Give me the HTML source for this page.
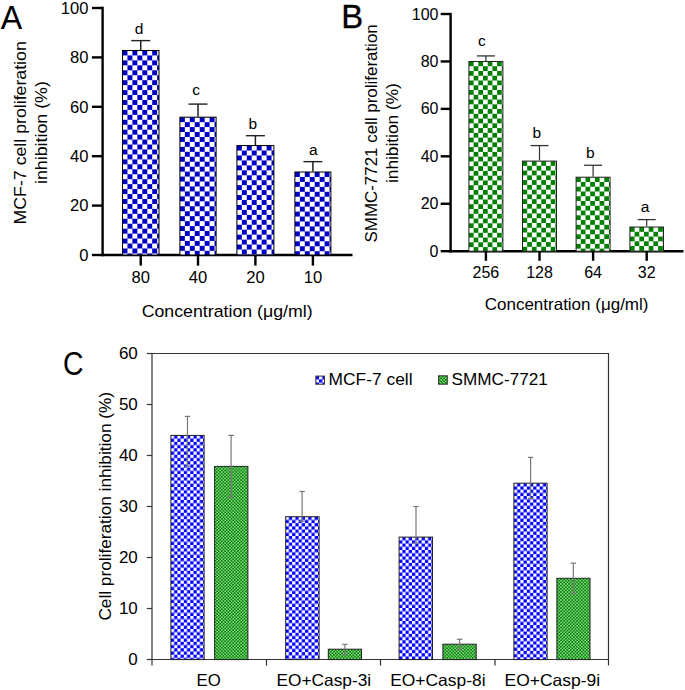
<!DOCTYPE html>
<html><head><meta charset="utf-8"><style>
html,body{margin:0;padding:0;background:#fff;}
svg{display:block;}
text{font-family:"Liberation Sans",sans-serif;fill:#000;}
</style></head><body>
<svg width="685" height="690" viewBox="0 0 685 690">
<defs><pattern id="p1" patternUnits="userSpaceOnUse" x="122.50" y="50.49" width="9.9" height="9.9">
<rect width="9.9" height="9.9" fill="#ffffff"/><rect width="4.95" height="4.95" fill="#0000c4"/><rect x="4.95" y="4.95" width="4.95" height="4.95" fill="#0000c4"/></pattern><pattern id="p2" patternUnits="userSpaceOnUse" x="179.90" y="117.18" width="9.9" height="9.9">
<rect width="9.9" height="9.9" fill="#ffffff"/><rect width="4.95" height="4.95" fill="#0000c4"/><rect x="4.95" y="4.95" width="4.95" height="4.95" fill="#0000c4"/></pattern><pattern id="p3" patternUnits="userSpaceOnUse" x="236.90" y="145.58" width="9.9" height="9.9">
<rect width="9.9" height="9.9" fill="#ffffff"/><rect width="4.95" height="4.95" fill="#0000c4"/><rect x="4.95" y="4.95" width="4.95" height="4.95" fill="#0000c4"/></pattern><pattern id="p4" patternUnits="userSpaceOnUse" x="294.90" y="172.01" width="9.9" height="9.9">
<rect width="9.9" height="9.9" fill="#ffffff"/><rect width="4.95" height="4.95" fill="#0000c4"/><rect x="4.95" y="4.95" width="4.95" height="4.95" fill="#0000c4"/></pattern><pattern id="p5" patternUnits="userSpaceOnUse" x="468.90" y="61.47" width="9.4" height="9.52">
<rect width="9.4" height="9.52" fill="#ffffff"/><rect width="4.7" height="4.76" fill="#007f00"/><rect x="4.7" y="4.76" width="4.7" height="4.76" fill="#007f00"/></pattern><pattern id="p6" patternUnits="userSpaceOnUse" x="522.50" y="161.09" width="9.4" height="9.52">
<rect width="9.4" height="9.52" fill="#ffffff"/><rect width="4.7" height="4.76" fill="#007f00"/><rect x="4.7" y="4.76" width="4.7" height="4.76" fill="#007f00"/></pattern><pattern id="p7" patternUnits="userSpaceOnUse" x="576.10" y="177.22" width="9.4" height="9.52">
<rect width="9.4" height="9.52" fill="#ffffff"/><rect width="4.7" height="4.76" fill="#007f00"/><rect x="4.7" y="4.76" width="4.7" height="4.76" fill="#007f00"/></pattern><pattern id="p8" patternUnits="userSpaceOnUse" x="629.90" y="227.03" width="9.4" height="9.52">
<rect width="9.4" height="9.52" fill="#ffffff"/><rect width="4.7" height="4.76" fill="#007f00"/><rect x="4.7" y="4.76" width="4.7" height="4.76" fill="#007f00"/></pattern><pattern id="p9" patternUnits="userSpaceOnUse" x="170.90" y="435.40" width="6.45" height="6.45">
<rect width="6.45" height="6.45" fill="#0000ff"/><rect width="3.225" height="3.225" fill="#ffffff"/><rect x="3.225" y="3.225" width="3.225" height="3.225" fill="#ffffff"/></pattern><pattern id="p10" patternUnits="userSpaceOnUse" x="214.60" y="466.40" width="3.225" height="3.225">
<rect width="3.225" height="3.225" fill="#3aae3a"/><rect x="0" y="0" width="1.6125" height="1.6125" fill="#008800"/><rect x="1.6125" y="1.6125" width="1.6125" height="1.6125" fill="#008800"/>
<rect x="1.9187500000000002" y="0.30625" width="1.0" height="1.0" fill="#ffffff"/><rect x="0.30625" y="1.9187500000000002" width="1.0" height="1.0" fill="#ffffff"/></pattern><pattern id="p11" patternUnits="userSpaceOnUse" x="285.70" y="516.70" width="6.45" height="6.45">
<rect width="6.45" height="6.45" fill="#0000ff"/><rect width="3.225" height="3.225" fill="#ffffff"/><rect x="3.225" y="3.225" width="3.225" height="3.225" fill="#ffffff"/></pattern><pattern id="p12" patternUnits="userSpaceOnUse" x="328.30" y="649.20" width="3.225" height="3.225">
<rect width="3.225" height="3.225" fill="#3aae3a"/><rect x="0" y="0" width="1.6125" height="1.6125" fill="#008800"/><rect x="1.6125" y="1.6125" width="1.6125" height="1.6125" fill="#008800"/>
<rect x="1.9187500000000002" y="0.30625" width="1.0" height="1.0" fill="#ffffff"/><rect x="0.30625" y="1.9187500000000002" width="1.0" height="1.0" fill="#ffffff"/></pattern><pattern id="p13" patternUnits="userSpaceOnUse" x="399.10" y="537.10" width="6.45" height="6.45">
<rect width="6.45" height="6.45" fill="#0000ff"/><rect width="3.225" height="3.225" fill="#ffffff"/><rect x="3.225" y="3.225" width="3.225" height="3.225" fill="#ffffff"/></pattern><pattern id="p14" patternUnits="userSpaceOnUse" x="442.90" y="644.20" width="3.225" height="3.225">
<rect width="3.225" height="3.225" fill="#3aae3a"/><rect x="0" y="0" width="1.6125" height="1.6125" fill="#008800"/><rect x="1.6125" y="1.6125" width="1.6125" height="1.6125" fill="#008800"/>
<rect x="1.9187500000000002" y="0.30625" width="1.0" height="1.0" fill="#ffffff"/><rect x="0.30625" y="1.9187500000000002" width="1.0" height="1.0" fill="#ffffff"/></pattern><pattern id="p15" patternUnits="userSpaceOnUse" x="513.90" y="483.20" width="6.45" height="6.45">
<rect width="6.45" height="6.45" fill="#0000ff"/><rect width="3.225" height="3.225" fill="#ffffff"/><rect x="3.225" y="3.225" width="3.225" height="3.225" fill="#ffffff"/></pattern><pattern id="p16" patternUnits="userSpaceOnUse" x="556.90" y="578.30" width="3.225" height="3.225">
<rect width="3.225" height="3.225" fill="#3aae3a"/><rect x="0" y="0" width="1.6125" height="1.6125" fill="#008800"/><rect x="1.6125" y="1.6125" width="1.6125" height="1.6125" fill="#008800"/>
<rect x="1.9187500000000002" y="0.30625" width="1.0" height="1.0" fill="#ffffff"/><rect x="0.30625" y="1.9187500000000002" width="1.0" height="1.0" fill="#ffffff"/></pattern><pattern id="p17" patternUnits="userSpaceOnUse" x="312.57" y="376.10" width="6.45" height="6.45">
<rect width="6.45" height="6.45" fill="#0000ff"/><rect width="3.225" height="3.225" fill="#ffffff"/><rect x="3.225" y="3.225" width="3.225" height="3.225" fill="#ffffff"/></pattern><pattern id="p18" patternUnits="userSpaceOnUse" x="438.60" y="375.80" width="3.225" height="3.225">
<rect width="3.225" height="3.225" fill="#3aae3a"/><rect x="0" y="0" width="1.6125" height="1.6125" fill="#008800"/><rect x="1.6125" y="1.6125" width="1.6125" height="1.6125" fill="#008800"/>
<rect x="1.9187500000000002" y="0.30625" width="1.0" height="1.0" fill="#ffffff"/><rect x="0.30625" y="1.9187500000000002" width="1.0" height="1.0" fill="#ffffff"/></pattern></defs>
<rect width="685" height="690" fill="#fff"/>
<text x="0.84" y="28.90" font-size="32.5" textLength="21.43" lengthAdjust="spacingAndGlyphs" >A</text>
<line x1="102.60" y1="6.70" x2="102.60" y2="256.20" stroke="#000" stroke-width="2.4"/>
<line x1="91.90" y1="255.00" x2="102.60" y2="255.00" stroke="#000" stroke-width="2.4"/>
<text x="88.50" y="260.80" font-size="16.6" text-anchor="end" >0</text>
<line x1="91.90" y1="205.60" x2="102.60" y2="205.60" stroke="#000" stroke-width="2.4"/>
<text x="88.50" y="211.40" font-size="16.6" text-anchor="end" >20</text>
<line x1="91.90" y1="156.20" x2="102.60" y2="156.20" stroke="#000" stroke-width="2.4"/>
<text x="88.50" y="162.00" font-size="16.6" text-anchor="end" >40</text>
<line x1="91.90" y1="106.80" x2="102.60" y2="106.80" stroke="#000" stroke-width="2.4"/>
<text x="88.50" y="112.60" font-size="16.6" text-anchor="end" >60</text>
<line x1="91.90" y1="57.40" x2="102.60" y2="57.40" stroke="#000" stroke-width="2.4"/>
<text x="88.50" y="63.20" font-size="16.6" text-anchor="end" >80</text>
<line x1="91.90" y1="8.00" x2="102.60" y2="8.00" stroke="#000" stroke-width="2.4"/>
<text x="88.50" y="13.80" font-size="16.6" text-anchor="end" >100</text>
<line x1="101.40" y1="255.00" x2="352.50" y2="255.00" stroke="#000" stroke-width="2.4"/>
<rect x="122.50" y="50.49" width="36.50" height="204.51" fill="url(#p1)"/><rect x="122.50" y="50.49" width="36.50" height="204.51" fill="none" stroke="#000" stroke-width="1"/>
<line x1="140.75" y1="40.61" x2="140.75" y2="49.99" stroke="#222" stroke-width="1.5"/>
<line x1="131.25" y1="40.61" x2="150.25" y2="40.61" stroke="#222" stroke-width="1.4"/>
<text x="134.76" y="33.60" font-size="15.5" text-anchor="start" >d</text>
<rect x="179.90" y="117.18" width="36.20" height="137.82" fill="url(#p2)"/><rect x="179.90" y="117.18" width="36.20" height="137.82" fill="none" stroke="#000" stroke-width="1"/>
<line x1="198.00" y1="104.09" x2="198.00" y2="116.68" stroke="#222" stroke-width="1.5"/>
<line x1="188.50" y1="104.09" x2="207.50" y2="104.09" stroke="#222" stroke-width="1.4"/>
<text x="192.20" y="95.20" font-size="15.5" text-anchor="start" >c</text>
<rect x="236.90" y="145.58" width="37.00" height="109.42" fill="url(#p3)"/><rect x="236.90" y="145.58" width="37.00" height="109.42" fill="none" stroke="#000" stroke-width="1"/>
<line x1="255.40" y1="135.70" x2="255.40" y2="145.08" stroke="#222" stroke-width="1.5"/>
<line x1="245.90" y1="135.70" x2="264.90" y2="135.70" stroke="#222" stroke-width="1.4"/>
<text x="248.62" y="129.00" font-size="15.5" text-anchor="start" >b</text>
<rect x="294.90" y="172.01" width="36.00" height="82.99" fill="url(#p4)"/><rect x="294.90" y="172.01" width="36.00" height="82.99" fill="none" stroke="#000" stroke-width="1"/>
<line x1="312.90" y1="161.64" x2="312.90" y2="171.51" stroke="#222" stroke-width="1.5"/>
<line x1="303.40" y1="161.64" x2="322.40" y2="161.64" stroke="#222" stroke-width="1.4"/>
<text x="309.06" y="154.60" font-size="15.5" text-anchor="start" >a</text>
<line x1="140.75" y1="255.00" x2="140.75" y2="265.60" stroke="#000" stroke-width="2.4"/>
<text x="140.75" y="283.00" font-size="16.6" text-anchor="middle" >80</text>
<line x1="198.00" y1="255.00" x2="198.00" y2="265.60" stroke="#000" stroke-width="2.4"/>
<text x="198.00" y="283.00" font-size="16.6" text-anchor="middle" >40</text>
<line x1="255.40" y1="255.00" x2="255.40" y2="265.60" stroke="#000" stroke-width="2.4"/>
<text x="255.40" y="283.00" font-size="16.6" text-anchor="middle" >20</text>
<line x1="312.90" y1="255.00" x2="312.90" y2="265.60" stroke="#000" stroke-width="2.4"/>
<text x="312.90" y="283.00" font-size="16.6" text-anchor="middle" >10</text>
<text x="141.70" y="317.00" font-size="16.8" textLength="171.00" lengthAdjust="spacingAndGlyphs" >Concentration (μg/ml)</text>
<text transform="translate(25.90,223.00) rotate(-90)" x="-1.45" y="0" font-size="17" textLength="183.20" lengthAdjust="spacingAndGlyphs">MCF-7 cell proliferation</text>
<text transform="translate(46.90,182.80) rotate(-90)" x="-1.19" y="0" font-size="17" textLength="102.79" lengthAdjust="spacingAndGlyphs">inhibition (%)</text>
<text x="341.30" y="28.00" font-size="32.5" textLength="21.93" lengthAdjust="spacingAndGlyphs" stroke="#000" stroke-width="0.3">B</text>
<line x1="450.60" y1="12.90" x2="450.60" y2="252.40" stroke="#000" stroke-width="2.4"/>
<line x1="440.70" y1="251.20" x2="450.60" y2="251.20" stroke="#000" stroke-width="2.4"/>
<text x="438.50" y="256.80" font-size="16" text-anchor="end" >0</text>
<line x1="440.70" y1="203.76" x2="450.60" y2="203.76" stroke="#000" stroke-width="2.4"/>
<text x="438.50" y="209.36" font-size="16" text-anchor="end" >20</text>
<line x1="440.70" y1="156.32" x2="450.60" y2="156.32" stroke="#000" stroke-width="2.4"/>
<text x="438.50" y="161.92" font-size="16" text-anchor="end" >40</text>
<line x1="440.70" y1="108.88" x2="450.60" y2="108.88" stroke="#000" stroke-width="2.4"/>
<text x="438.50" y="114.48" font-size="16" text-anchor="end" >60</text>
<line x1="440.70" y1="61.44" x2="450.60" y2="61.44" stroke="#000" stroke-width="2.4"/>
<text x="438.50" y="67.04" font-size="16" text-anchor="end" >80</text>
<line x1="440.70" y1="14.00" x2="450.60" y2="14.00" stroke="#000" stroke-width="2.4"/>
<text x="438.50" y="19.60" font-size="16" text-anchor="end" >100</text>
<line x1="449.40" y1="251.20" x2="683.50" y2="251.20" stroke="#000" stroke-width="2.4"/>
<rect x="468.90" y="61.47" width="34.00" height="189.73" fill="url(#p5)"/><rect x="468.90" y="61.47" width="34.00" height="189.73" fill="none" stroke="#222" stroke-width="1"/>
<line x1="485.90" y1="55.92" x2="485.90" y2="60.97" stroke="#333" stroke-width="1.2"/>
<line x1="476.90" y1="55.92" x2="494.90" y2="55.92" stroke="#333" stroke-width="1.3"/>
<text x="478.00" y="46.00" font-size="15.5" text-anchor="start" >c</text>
<rect x="522.50" y="161.09" width="34.00" height="90.11" fill="url(#p6)"/><rect x="522.50" y="161.09" width="34.00" height="90.11" fill="none" stroke="#222" stroke-width="1"/>
<line x1="539.50" y1="145.58" x2="539.50" y2="160.59" stroke="#333" stroke-width="1.2"/>
<line x1="530.50" y1="145.58" x2="548.50" y2="145.58" stroke="#333" stroke-width="1.3"/>
<text x="532.52" y="137.60" font-size="15.5" text-anchor="start" >b</text>
<rect x="576.10" y="177.22" width="34.00" height="73.98" fill="url(#p7)"/><rect x="576.10" y="177.22" width="34.00" height="73.98" fill="none" stroke="#222" stroke-width="1"/>
<line x1="593.10" y1="165.27" x2="593.10" y2="176.72" stroke="#333" stroke-width="1.2"/>
<line x1="584.10" y1="165.27" x2="602.10" y2="165.27" stroke="#333" stroke-width="1.3"/>
<text x="586.12" y="157.60" font-size="15.5" text-anchor="start" >b</text>
<rect x="629.90" y="227.03" width="33.60" height="24.17" fill="url(#p8)"/><rect x="629.90" y="227.03" width="33.60" height="24.17" fill="none" stroke="#222" stroke-width="1"/>
<line x1="646.70" y1="219.59" x2="646.70" y2="226.53" stroke="#333" stroke-width="1.2"/>
<line x1="637.70" y1="219.59" x2="655.70" y2="219.59" stroke="#333" stroke-width="1.3"/>
<text x="640.66" y="211.60" font-size="15.5" text-anchor="start" >a</text>
<line x1="485.90" y1="251.20" x2="485.90" y2="260.80" stroke="#000" stroke-width="2.4"/>
<text x="485.90" y="277.60" font-size="16" text-anchor="middle" >256</text>
<line x1="539.50" y1="251.20" x2="539.50" y2="260.80" stroke="#000" stroke-width="2.4"/>
<text x="539.50" y="277.60" font-size="16" text-anchor="middle" >128</text>
<line x1="593.10" y1="251.20" x2="593.10" y2="260.80" stroke="#000" stroke-width="2.4"/>
<text x="593.10" y="277.60" font-size="16" text-anchor="middle" >64</text>
<line x1="646.70" y1="251.20" x2="646.70" y2="260.80" stroke="#000" stroke-width="2.4"/>
<text x="646.70" y="277.60" font-size="16" text-anchor="middle" >32</text>
<text x="484.74" y="310.00" font-size="16.5" textLength="163.72" lengthAdjust="spacingAndGlyphs" >Concentration (μg/ml)</text>
<text transform="translate(377.30,241.70) rotate(-90)" x="-0.77" y="0" font-size="17" textLength="218.17" lengthAdjust="spacingAndGlyphs">SMMC-7721 cell proliferation</text>
<text transform="translate(398.30,181.90) rotate(-90)" x="-1.16" y="0" font-size="17" textLength="99.93" lengthAdjust="spacingAndGlyphs">inhibition (%)</text>
<text x="62.96" y="374.80" font-size="32.5" textLength="20.53" lengthAdjust="spacingAndGlyphs" >C</text>
<line x1="152.00" y1="353.50" x2="152.00" y2="665.60" stroke="#333" stroke-width="1.2"/>
<line x1="608.50" y1="353.50" x2="608.50" y2="665.60" stroke="#333" stroke-width="1.2"/>
<line x1="151.50" y1="353.50" x2="609.00" y2="353.50" stroke="#333" stroke-width="1.2"/>
<line x1="151.50" y1="659.50" x2="609.00" y2="659.50" stroke="#333" stroke-width="1.2"/>
<line x1="146.80" y1="659.50" x2="152.00" y2="659.50" stroke="#333" stroke-width="1.2"/>
<text x="137.80" y="665.40" font-size="17" text-anchor="end" >0</text>
<line x1="146.80" y1="608.50" x2="152.00" y2="608.50" stroke="#333" stroke-width="1.2"/>
<text x="137.80" y="614.40" font-size="17" text-anchor="end" >10</text>
<line x1="146.80" y1="557.50" x2="152.00" y2="557.50" stroke="#333" stroke-width="1.2"/>
<text x="137.80" y="563.40" font-size="17" text-anchor="end" >20</text>
<line x1="146.80" y1="506.50" x2="152.00" y2="506.50" stroke="#333" stroke-width="1.2"/>
<text x="137.80" y="512.40" font-size="17" text-anchor="end" >30</text>
<line x1="146.80" y1="455.50" x2="152.00" y2="455.50" stroke="#333" stroke-width="1.2"/>
<text x="137.80" y="461.40" font-size="17" text-anchor="end" >40</text>
<line x1="146.80" y1="404.50" x2="152.00" y2="404.50" stroke="#333" stroke-width="1.2"/>
<text x="137.80" y="410.40" font-size="17" text-anchor="end" >50</text>
<line x1="146.80" y1="353.50" x2="152.00" y2="353.50" stroke="#333" stroke-width="1.2"/>
<text x="137.80" y="359.40" font-size="17" text-anchor="end" >60</text>
<line x1="266.50" y1="659.50" x2="266.50" y2="665.60" stroke="#333" stroke-width="1.2"/>
<line x1="380.50" y1="659.50" x2="380.50" y2="665.60" stroke="#333" stroke-width="1.2"/>
<line x1="495.00" y1="659.50" x2="495.00" y2="665.60" stroke="#333" stroke-width="1.2"/>
<rect x="170.90" y="435.40" width="33.20" height="224.20" fill="url(#p9)"/><rect x="170.90" y="435.40" width="33.20" height="224.20" fill="none" stroke="#222" stroke-width="1"/>
<line x1="187.50" y1="416.40" x2="187.50" y2="466.30" stroke="#777" stroke-width="1.2"/>
<line x1="184.80" y1="416.40" x2="190.20" y2="416.40" stroke="#777" stroke-width="1.2"/>
<line x1="184.80" y1="466.30" x2="190.20" y2="466.30" stroke="#777" stroke-width="1.2"/>
<rect x="214.60" y="466.40" width="33.30" height="193.20" fill="url(#p10)"/><rect x="214.60" y="466.40" width="33.30" height="193.20" fill="none" stroke="#222" stroke-width="1"/>
<line x1="231.10" y1="435.40" x2="231.10" y2="497.00" stroke="#777" stroke-width="1.2"/>
<line x1="228.40" y1="435.40" x2="233.80" y2="435.40" stroke="#777" stroke-width="1.2"/>
<line x1="228.40" y1="497.00" x2="233.80" y2="497.00" stroke="#777" stroke-width="1.2"/>
<rect x="285.70" y="516.70" width="33.40" height="142.90" fill="url(#p11)"/><rect x="285.70" y="516.70" width="33.40" height="142.90" fill="none" stroke="#222" stroke-width="1"/>
<line x1="302.10" y1="491.50" x2="302.10" y2="521.40" stroke="#777" stroke-width="1.2"/>
<line x1="299.40" y1="491.50" x2="304.80" y2="491.50" stroke="#777" stroke-width="1.2"/>
<line x1="299.40" y1="521.40" x2="304.80" y2="521.40" stroke="#777" stroke-width="1.2"/>
<rect x="328.30" y="649.20" width="33.20" height="10.40" fill="url(#p12)"/><rect x="328.30" y="649.20" width="33.20" height="10.40" fill="none" stroke="#222" stroke-width="1"/>
<line x1="344.90" y1="644.30" x2="344.90" y2="654.60" stroke="#777" stroke-width="1.2"/>
<line x1="342.20" y1="644.30" x2="347.60" y2="644.30" stroke="#777" stroke-width="1.2"/>
<line x1="342.20" y1="654.60" x2="347.60" y2="654.60" stroke="#777" stroke-width="1.2"/>
<rect x="399.10" y="537.10" width="33.40" height="122.50" fill="url(#p13)"/><rect x="399.10" y="537.10" width="33.40" height="122.50" fill="none" stroke="#222" stroke-width="1"/>
<line x1="416.00" y1="506.50" x2="416.00" y2="543.00" stroke="#777" stroke-width="1.2"/>
<line x1="413.30" y1="506.50" x2="418.70" y2="506.50" stroke="#777" stroke-width="1.2"/>
<line x1="413.30" y1="543.00" x2="418.70" y2="543.00" stroke="#777" stroke-width="1.2"/>
<rect x="442.90" y="644.20" width="33.30" height="15.40" fill="url(#p14)"/><rect x="442.90" y="644.20" width="33.30" height="15.40" fill="none" stroke="#222" stroke-width="1"/>
<line x1="459.60" y1="639.30" x2="459.60" y2="649.30" stroke="#777" stroke-width="1.2"/>
<line x1="456.90" y1="639.30" x2="462.30" y2="639.30" stroke="#777" stroke-width="1.2"/>
<line x1="456.90" y1="649.30" x2="462.30" y2="649.30" stroke="#777" stroke-width="1.2"/>
<rect x="513.90" y="483.20" width="33.20" height="176.40" fill="url(#p15)"/><rect x="513.90" y="483.20" width="33.20" height="176.40" fill="none" stroke="#222" stroke-width="1"/>
<line x1="530.60" y1="457.40" x2="530.60" y2="498.40" stroke="#777" stroke-width="1.2"/>
<line x1="527.90" y1="457.40" x2="533.30" y2="457.40" stroke="#777" stroke-width="1.2"/>
<line x1="527.90" y1="498.40" x2="533.30" y2="498.40" stroke="#777" stroke-width="1.2"/>
<rect x="556.90" y="578.30" width="33.10" height="81.30" fill="url(#p16)"/><rect x="556.90" y="578.30" width="33.10" height="81.30" fill="none" stroke="#222" stroke-width="1"/>
<line x1="573.30" y1="563.20" x2="573.30" y2="593.50" stroke="#777" stroke-width="1.2"/>
<line x1="570.60" y1="563.20" x2="576.00" y2="563.20" stroke="#777" stroke-width="1.2"/>
<line x1="570.60" y1="593.50" x2="576.00" y2="593.50" stroke="#777" stroke-width="1.2"/>
<rect x="315.80" y="376.10" width="8.70" height="8.10" fill="url(#p17)"/><rect x="315.80" y="376.10" width="8.70" height="8.10" fill="none" stroke="#333" stroke-width="1"/>
<rect x="438.60" y="375.80" width="8.70" height="8.40" fill="url(#p18)"/><rect x="438.60" y="375.80" width="8.70" height="8.40" fill="none" stroke="#333" stroke-width="1"/>
<text x="328.57" y="385.00" font-size="16.5" textLength="83.99" lengthAdjust="spacingAndGlyphs" >MCF-7 cell</text>
<text x="451.62" y="385.00" font-size="16.5" textLength="96.22" lengthAdjust="spacingAndGlyphs" >SMMC-7721</text>
<text x="196.63" y="685.50" font-size="16.5" textLength="24.17" lengthAdjust="spacingAndGlyphs" >EO</text>
<text x="276.58" y="685.50" font-size="16.5" textLength="94.58" lengthAdjust="spacingAndGlyphs" >EO+Casp-3i</text>
<text x="390.17" y="685.50" font-size="16.5" textLength="95.40" lengthAdjust="spacingAndGlyphs" >EO+Casp-8i</text>
<text x="504.57" y="685.50" font-size="16.5" textLength="95.61" lengthAdjust="spacingAndGlyphs" >EO+Casp-9i</text>
<text transform="translate(111.20,619.70) rotate(-90)" x="-0.87" y="0" font-size="17.2" textLength="228.64" lengthAdjust="spacingAndGlyphs">Cell proliferation inhibition (%)</text>
</svg></body></html>
